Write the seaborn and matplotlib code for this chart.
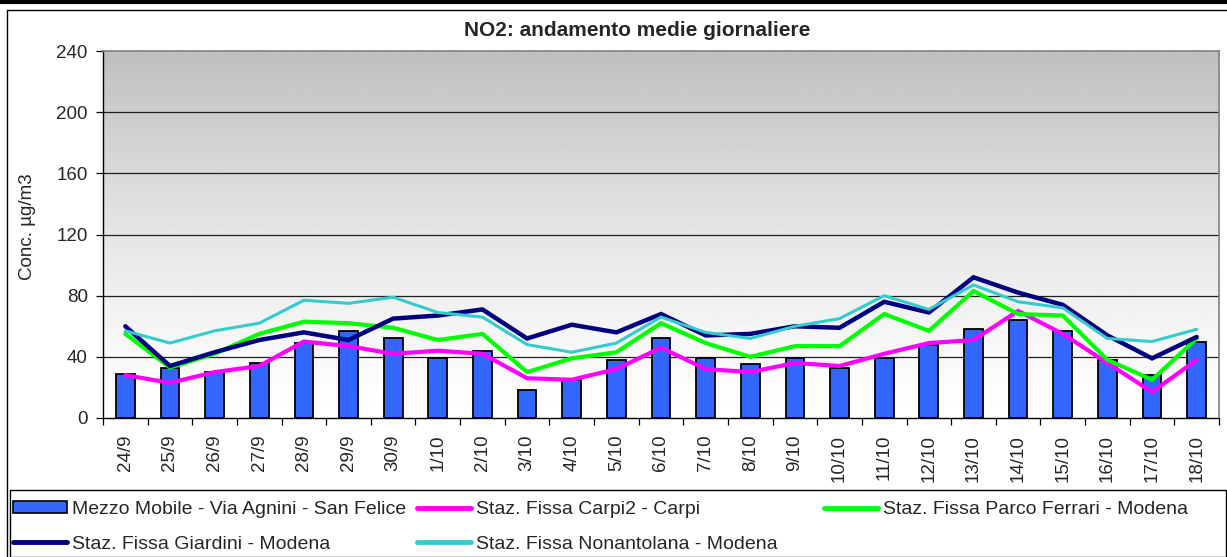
import numpy as np
import pandas as pd
import matplotlib
matplotlib.use("Agg")
import matplotlib.pyplot as plt
from matplotlib.patches import Patch, Rectangle
from matplotlib.lines import Line2D
import seaborn as sns

# ---------------- data ----------------
dates = ["24/9", "25/9", "26/9", "27/9", "28/9", "29/9", "30/9", "1/10", "2/10",
         "3/10", "4/10", "5/10", "6/10", "7/10", "8/10", "9/10", "10/10", "11/10",
         "12/10", "13/10", "14/10", "15/10", "16/10", "17/10", "18/10"]

mezzo_mobile = [29, 33, 30, 36, 49, 57, 52, 39, 44, 18, 25, 38, 52, 39, 35, 39, 33,
                39, 48, 58, 64, 57, 38, 28, 50]
carpi2 = [28, 23, 30, 34, 50, 47, 42, 44, 42, 26, 25, 32, 46, 32, 30, 36, 34, 42,
          49, 51, 70, 55, 36, 17, 38]
parco_ferrari = [55, 33, 42, 55, 63, 62, 59, 51, 55, 30, 39, 43, 62, 49, 40, 47, 47,
                 68, 57, 83, 68, 67, 38, 25, 52]
giardini = [60, 34, 43, 51, 56, 51, 65, 67, 71, 52, 61, 56, 68, 54, 55, 60, 59, 76,
            69, 92, 82, 74, 54, 39, 53]
nonantolana = [57, 49, 57, 62, 77, 75, 79, 69, 66, 48, 43, 49, 66, 56, 52, 60, 65,
               80, 71, 87, 76, 72, 52, 50, 58]

series_names = ["Mezzo Mobile - Via Agnini - San Felice",
                "Staz. Fissa Carpi2 - Carpi",
                "Staz. Fissa Parco Ferrari - Modena",
                "Staz. Fissa Giardini - Modena",
                "Staz. Fissa Nonantolana - Modena"]
title = "NO2: andamento medie giornaliere"
ylabel = "Conc. µg/m3"
yticks = [0, 40, 80, 120, 160, 200, 240]

# ---------------- style ----------------
sns.set_theme(style="white")
plt.rcParams["font.family"] = ["Liberation Sans", "DejaVu Sans"]

W, H = 1227, 557
fig = plt.figure(figsize=(W / 100, H / 100), dpi=100)
ax = fig.add_axes([103 / W, 1 - 418 / H, (1219 - 103) / W, (418 - 51) / H])

n = len(dates)
idx = np.arange(n)

bar_color = "#3366ff"
c_carpi, c_ferrari, c_giardini, c_nonant = "#ff00ff", "#00ff00", "#000080", "#33cccc"

# background gradient (grey at top -> white at bottom)
yy = np.linspace(1, 0, 256)
grad = 1 - 0.25 * yy ** 1.3
ax.imshow(grad[:, None], extent=[-0.5, n - 0.5, 0, 240], aspect="auto",
          cmap="gray", vmin=0, vmax=1, zorder=0, interpolation="bilinear")

for t in yticks[1:-1]:
    ax.axhline(t, color="#202020", lw=0.9, zorder=1)

sns.barplot(x=dates, y=mezzo_mobile, color=bar_color, saturation=1,
            edgecolor="black", linewidth=1.3, width=0.42, ax=ax, zorder=2)

line_specs = [
    (carpi2, c_carpi, 3.0),
    (parco_ferrari, c_ferrari, 3.0),
    (giardini, c_giardini, 3.2),
    (nonantolana, c_nonant, 2.2),
]
for vals, col, lw in line_specs:
    sns.lineplot(x=idx, y=vals, color=col, lw=lw, ax=ax, zorder=3,
                 solid_joinstyle="miter")

fs = 13.5
ax.set_xlim(-0.5, n - 0.5)
ax.set_ylim(0, 240)
ax.set_yticks(yticks)
ax.set_yticklabels([str(t) for t in yticks], fontsize=fs)
ax.set_xticks(idx)
ax.set_xticklabels(dates, rotation=90, fontsize=fs)
ax.set_xticks(np.arange(-0.5, n, 1.0), minor=True)
ax.tick_params(axis="x", which="major", length=0, pad=12)
ax.tick_params(axis="x", which="minor", length=5, width=0.9, color="black",
               direction="out", bottom=True)
ax.tick_params(axis="y", length=5, width=0.9, color="black", direction="out",
               left=True, pad=6)
ax.set_xlabel("")
ax.set_ylabel(ylabel, fontsize=fs)
ax.yaxis.set_label_coords(-67 / (1219 - 103), 0.522)

for s in ["left", "bottom"]:
    ax.spines[s].set_color("black")
    ax.spines[s].set_linewidth(1.0)
for s in ["top", "right"]:
    ax.spines[s].set_color("#808080")
    ax.spines[s].set_linewidth(1.2)

fig.text(637 / W, 1 - 30 / H, title, ha="center", va="center",
         fontsize=15, fontweight="bold")

# frame decorations
fig.add_artist(Line2D([0, 1], [1 - 1.5 / H, 1 - 1.5 / H], transform=fig.transFigure,
                      color="black", lw=3))
fig.add_artist(Line2D([7 / W, 1], [1 - 10 / H, 1 - 10 / H], transform=fig.transFigure,
                      color="black", lw=1))
fig.add_artist(Line2D([7 / W, 7 / W], [0, 1 - 10 / H], transform=fig.transFigure,
                      color="black", lw=1))
fig.add_artist(Rectangle((9.5 / W, 0.5 / H), (1226 - 9.5) / W, 67 / H,
                         transform=fig.transFigure, fill=False, edgecolor="black",
                         lw=1.0))

# legend: three columns placed like the original
lfs = 14
cols = [
    ([Patch(facecolor=bar_color, edgecolor="black", linewidth=1.2),
      Line2D([], [], color=c_giardini, lw=3.5)],
     [series_names[0], series_names[3]], 13),
    ([Line2D([], [], color=c_carpi, lw=3.5),
      Line2D([], [], color=c_nonant, lw=3.5)],
     [series_names[1], series_names[4]], 417),
    ([Line2D([], [], color=c_ferrari, lw=3.5)],
     [series_names[2]], 824),
]
for hs, ls, x0 in cols:
    fig.legend(hs, ls, loc="upper left", bbox_to_anchor=(x0 / W, 1 - 501 / H),
               frameon=False, fontsize=lfs, handlelength=2.8, handleheight=0.6,
               handletextpad=0.25, labelspacing=0.9, borderaxespad=0,
               borderpad=0)

fig.savefig("out.png", dpi=100)
